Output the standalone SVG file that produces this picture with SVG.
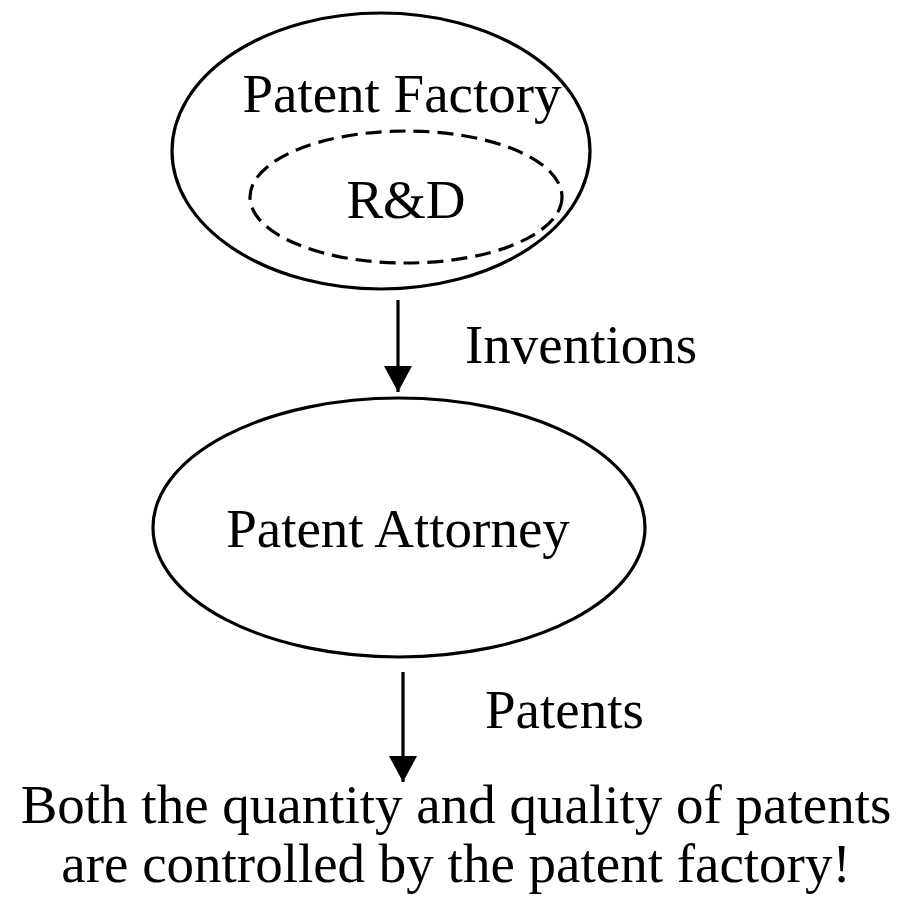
<svg xmlns="http://www.w3.org/2000/svg" width="924" height="899" viewBox="0 0 924 899">
  <style>
    .node { fill: none; stroke: #000; stroke-width: 3.2; }
    .dashed { stroke-dasharray: 16 8; }
    .lbl { font-family: "Liberation Serif", "Times New Roman", serif; font-size: 55px; fill: #000; }
    .mid { text-anchor: middle; }
    .conn { stroke: #000; stroke-width: 3.2; fill: none; }
  </style>
  <defs>
    <marker id="arrow" viewBox="0 0 26 28" refX="26" refY="14" markerWidth="26" markerHeight="28" markerUnits="userSpaceOnUse" orient="auto">
      <path d="M0,0 L26,14 L0,28 Z" fill="#000"/>
    </marker>
  </defs>
  <rect width="924" height="899" fill="#fff"/>
  <g id="patent-factory">
    <ellipse class="node" cx="381" cy="151" rx="209" ry="138"/>
    <text class="lbl mid" x="402" y="112">Patent Factory</text>
  </g>
  <g id="rnd">
    <ellipse class="node dashed" cx="406" cy="197" rx="156" ry="66"/>
    <text class="lbl mid" x="406" y="218">R&amp;D</text>
  </g>
  <g id="patent-attorney">
    <ellipse class="node" cx="399" cy="527.5" rx="246" ry="129.5"/>
    <text class="lbl mid" x="398" y="547">Patent Attorney</text>
  </g>
  <g id="conclusion">
    <text class="lbl mid" x="456" y="823">Both the quantity and quality of patents</text>
    <text class="lbl mid" x="456" y="882">are controlled by the patent factory!</text>
  </g>
  <g id="connectors">
    <line class="conn" x1="398" y1="300" x2="398" y2="392" marker-end="url(#arrow)"/>
    <text class="lbl" x="465" y="363">Inventions</text>
    <line class="conn" x1="403" y1="672" x2="403" y2="782" marker-end="url(#arrow)"/>
    <text class="lbl" x="485" y="728">Patents</text>
  </g>
</svg>
